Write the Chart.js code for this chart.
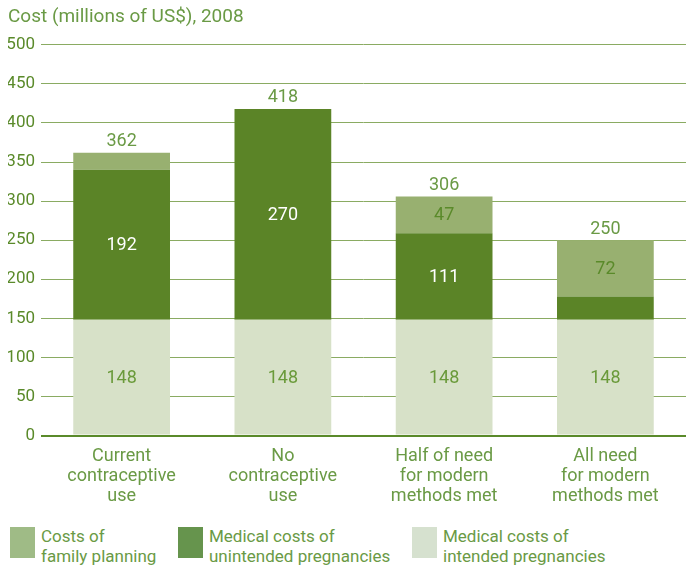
<!DOCTYPE html>
<html>
<head>
<meta charset="utf-8">
<script src="https://cdn.jsdelivr.net/npm/chart.js@4.4.1/dist/chart.umd.min.js"></script>
<style>
  body { margin: 0; background: #fff; font-family: Roboto, 'DejaVu Sans Condensed', sans-serif; }
  #wrap { position: relative; width: 686px; height: 514px; }
  #legend { position: absolute; top: 524px; left: 0; width: 686px; height: 43px; color: #6a9a45; font-size: 17px; line-height: 20px; }
  .item { position: absolute; top: 0; }
  .box { position: absolute; top: 3px; left: 0; width: 25px; height: 31px; }
  .txt { position: absolute; left: 31px; top: 2px; white-space: nowrap; }
</style>
</head>
<body>
<div id="wrap"><canvas id="chart"></canvas></div>
<div id="legend">
  <div class="item" style="left:10px"><div class="box" style="background:#9fbb86"></div><div class="txt">Costs of<br>family planning</div></div>
  <div class="item" style="left:178px"><div class="box" style="background:#66944d"></div><div class="txt">Medical costs of<br>unintended pregnancies</div></div>
  <div class="item" style="left:412px"><div class="box" style="background:#d6e1cf"></div><div class="txt">Medical costs of<br>intended pregnancies</div></div>
</div>
<script>
var FONT = "Roboto, 'DejaVu Sans Condensed', sans-serif";
var TEXT = '#6a9a45';

var categories = [
  ['Current', 'contraceptive', 'use'],
  ['No', 'contraceptive', 'use'],
  ['Half of need', 'for modern', 'methods met'],
  ['All need', 'for modern', 'methods met']
];
var intended = [148, 148, 148, 148];
var unintended = [192, 270, 111, 30];
var familyPlanning = [22, 0, 47, 72];
var totals = [362, 418, 306, 250];
var yTicks = [0, 50, 100, 150, 200, 250, 300, 350, 400, 450, 500];

// which segments get a number printed inside
var showIntended = [true, true, true, true];
var showUnintended = [true, true, true, false];
var showFamily = [false, false, true, true];

var labelPlugin = {
  id: 'segLabels',
  afterDatasetsDraw: function(chart) {
    var ctx = chart.ctx;
    ctx.save();
    ctx.font = '18px ' + FONT;
    ctx.textAlign = 'center';
    ctx.textBaseline = 'middle';
    chart.data.datasets.forEach(function(ds, i) {
      var meta = chart.getDatasetMeta(i);
      meta.data.forEach(function(bar, j) {
        if (!ds.showLabel[j]) return;
        ctx.fillStyle = ds.labelColor;
        ctx.fillText(ds.data[j], bar.x, (bar.y + bar.base) / 2 + 1);
      });
    });
    var top = chart.getDatasetMeta(chart.data.datasets.length - 1);
    ctx.fillStyle = TEXT;
    ctx.textBaseline = 'bottom';
    top.data.forEach(function(bar, j) {
      var y = chart.scales.y.getPixelForValue(totals[j]);
      ctx.fillText(totals[j], bar.x, y - 2);
    });
    ctx.restore();
  }
};

new Chart(document.getElementById('chart'), {
  type: 'bar',
  data: {
    labels: categories,
    datasets: [
      { label: 'Medical costs of intended pregnancies', data: intended, backgroundColor: '#d7e1c8', labelColor: '#6a9a3a', showLabel: showIntended },
      { label: 'Medical costs of unintended pregnancies', data: unintended, backgroundColor: '#5b8427', labelColor: '#ffffff', showLabel: showUnintended },
      { label: 'Costs of family planning', data: familyPlanning, backgroundColor: '#98b070', labelColor: '#5a8a2a', showLabel: showFamily }
    ]
  },
  plugins: [labelPlugin],
  options: {
    responsive: true,
    maintainAspectRatio: false,
    animation: false,
    layout: { padding: { left: 8, right: 0, top: 0, bottom: 4 } },
    datasets: { bar: { barPercentage: 0.6, categoryPercentage: 1 } },
    plugins: {
      legend: { display: false },
      tooltip: { enabled: false },
      title: {
        display: true,
        text: 'Cost (millions of US$), 2008',
        align: 'start',
        color: TEXT,
        font: { family: FONT, size: 19, weight: 'normal' },
        padding: { top: 6, bottom: 16 }
      }
    },
    scales: {
      x: {
        stacked: true,
        grid: { display: false },
        border: { display: false },
        ticks: { color: TEXT, font: { family: FONT, size: 18, lineHeight: 1.12 }, padding: 3, maxRotation: 0 }
      },
      y: {
        stacked: true,
        min: 0,
        max: 500,
        afterBuildTicks: function(axis) {
          axis.ticks = yTicks.map(function(v) { return { value: v }; });
        },
        afterFit: function(axis) { axis.width = 33; },
        grid: {
          drawTicks: false,
          color: function(c) { return c.tick.value === 0 ? '#5a8a2a' : '#8aab62'; },
          lineWidth: function(c) { return c.tick.value === 0 ? 2 : 1; }
        },
        border: { display: false },
        ticks: { color: '#5a8a2a', font: { family: FONT, size: 17 }, padding: 6 }
      }
    }
  }
});
</script>
</body>
</html>
